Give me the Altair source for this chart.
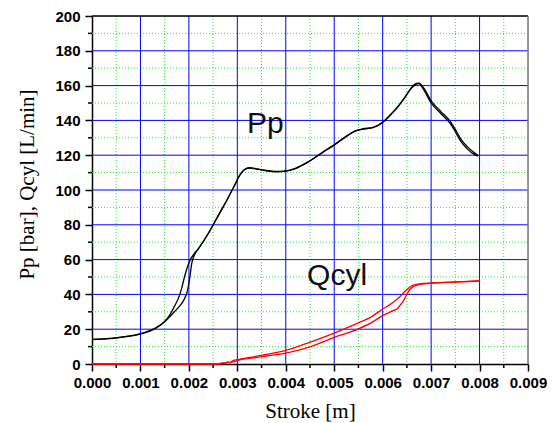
import altair as alt
import pandas as pd

# ---- data (stroke in m, values in bar / L/min) ----
x_ticks = [0.000, 0.001, 0.002, 0.003, 0.004, 0.005, 0.006, 0.007, 0.008, 0.009]
y_ticks = [0, 20, 40, 60, 80, 100, 120, 140, 160, 180, 200]
x_major_grid = [0.001, 0.002, 0.003, 0.004, 0.005, 0.006, 0.007, 0.008]
y_major_grid = [20, 40, 60, 80, 100, 120, 140, 160, 180]
x_minor = [0.0005, 0.0015, 0.0025, 0.0035, 0.0045, 0.0055, 0.0065, 0.0075, 0.0085]
y_minor = [10, 30, 50, 70, 90, 110, 130, 150, 170, 190]

pp_a_x = [0, 0.3, 0.6, 0.9, 1.1, 1.3, 1.5, 1.6, 1.7, 1.8, 1.85, 1.9, 1.95, 2.0, 2.05, 2.1,
          2.2, 2.4, 2.6, 2.8, 2.95, 3.05, 3.15, 3.25, 3.4, 3.6, 3.8, 4.0, 4.2, 4.45, 4.8,
          5.0, 5.2, 5.45, 5.6, 5.8, 6.0, 6.15, 6.3, 6.45, 6.6, 6.7, 6.75, 6.85, 7.0, 7.2,
          7.4, 7.5, 7.6, 7.75, 7.9, 7.97]
pp_a_y = [14.2, 14.6, 15.5, 16.7, 18.2, 20.5, 24.5, 28, 33, 39, 43.5, 49, 54, 58, 61, 63,
          66.5, 75, 85, 95, 103, 108.5, 111.8, 112.8, 112.2, 111.2, 110.7, 111, 112.5, 116, 122.5,
          126, 130, 134.2, 135.2, 136, 139, 143, 147.5, 153, 159, 161.2, 161.2, 157.5, 150, 144,
          138, 133.5, 128.5, 123.5, 120.3, 119.5]

pp_b_x = [0, 0.3, 0.6, 0.9, 1.1, 1.3, 1.5, 1.6, 1.7, 1.8, 1.9, 1.97, 2.02, 2.06, 2.12,
          2.2, 2.4, 2.6, 2.8, 2.95, 3.05, 3.15, 3.25, 3.4, 3.6, 3.8, 4.0, 4.2, 4.45, 4.8,
          5.0, 5.2, 5.45, 5.6, 5.8, 6.0, 6.15, 6.3, 6.45, 6.6, 6.7, 6.75, 6.85, 7.0, 7.2,
          7.4, 7.5, 7.6, 7.75, 7.9, 7.97]
pp_b_y = [14.0, 14.4, 15.3, 16.6, 18.0, 20.3, 24.3, 27, 30, 33, 37, 42, 50, 58, 63,
          66.3, 75, 85, 95, 103, 108.5, 111.8, 112.6, 112.0, 111.0, 110.5, 110.8, 112.3, 115.8, 122.3,
          125.8, 129.8, 134.0, 135.0, 135.8, 138.8, 142.8, 147.3, 152.8, 158.8, 161.0, 161.4, 158.5, 151.2, 145.2,
          139.2, 134.8, 129.8, 124.8, 121.2, 119.8]

q_a_x = [0, 2.6, 2.7, 2.75, 2.8, 2.85, 2.9, 3.0, 3.3, 3.6, 4.0, 4.5, 5.0, 5.5, 5.75, 6.0,
         6.2, 6.35, 6.45, 6.55, 6.65, 6.8, 7.0, 7.5, 8.0]
q_a_y = [0, 0, 0.8, 0.3, 1.2, 0.6, 1.8, 2.5, 4, 5.5, 7.8, 12.6, 17.8, 23.6, 26.8, 31.6,
         35, 38.5, 41.5, 44, 45.5, 46.2, 46.6, 47.2, 47.7]
q_b_x = [0, 2.65, 2.75, 2.85, 2.95, 3.0, 3.3, 3.6, 4.0, 4.5, 5.0, 5.5, 5.75, 6.0, 6.2,
         6.3, 6.43, 6.57, 6.74, 6.98, 7.5, 8.0]
q_b_y = [0, 0, 0.6, 1.0, 1.4, 2.0, 3.4, 4.6, 6.3, 9.9, 15.3, 20.2, 23.5, 27.8, 30.5,
         31.8, 36.4, 43.1, 45.6, 46.3, 47.1, 47.7]

labels = ["Pp", "Qcyl"]
label_x = [0.00320, 0.00444]
label_y = [133, 45.4]

# ---- build tables ----
rows = []
for name, xs_, ys_ in [("Pp a", pp_a_x, pp_a_y), ("Pp b", pp_b_x, pp_b_y),
                       ("Q a", q_a_x, q_a_y), ("Q b", q_b_x, q_b_y)]:
    for i, (xv, yv) in enumerate(zip(xs_, ys_)):
        rows.append({"s": name, "x": xv / 1000.0, "y": yv, "i": i})
lines = pd.DataFrame(rows)

W, H = 436, 348
xs = alt.Scale(domain=[0, 0.009], nice=False, zero=False)
ys = alt.Scale(domain=[0, 200], nice=False, zero=False)

x_axis = alt.Axis(values=x_ticks, format=".3f", grid=False, labelFlush=False,
                  labelFont="Liberation Sans", labelFontSize=15, labelFontWeight="bold",
                  labelColor="black", labelPadding=4, labelOverlap=False,
                  tickColor="black", tickSize=7, tickWidth=1.5,
                  domainColor="black", domainWidth=1.5,
                  title="Stroke [m]", titleFont="Liberation Serif", titleFontSize=21,
                  titleFontWeight="normal", titleColor="black",
                  titleY=53, titleBaseline="alphabetic")
y_axis = alt.Axis(values=y_ticks, grid=False, labelFlush=False,
                  labelFont="Liberation Sans", labelFontSize=15, labelFontWeight="bold",
                  labelColor="black", labelPadding=5, labelOverlap=False,
                  tickColor="black", tickSize=7, tickWidth=1.5,
                  domainColor="black", domainWidth=1.5,
                  title="Pp [bar],  Qcyl [L/min]", titleFont="Liberation Serif", titleFontSize=21,
                  titleFontWeight="normal", titleColor="black",
                  titleX=-65, titleY=168, titleBaseline="middle", titleAngle=270)


def X(field):
    return alt.X(field, scale=xs, axis=x_axis)


def Y(field):
    return alt.Y(field, scale=ys, axis=y_axis)


one = alt.Data(values=[{"a": 1}])

gx_minor = alt.Chart(pd.DataFrame({"x": x_minor})).mark_rule(
    color="#22ee22", strokeWidth=1, strokeDash=[1, 2]).encode(x=X("x:Q"))
gy_minor = alt.Chart(pd.DataFrame({"y": y_minor})).mark_rule(
    color="#22ee22", strokeWidth=1, strokeDash=[1, 2]).encode(y=Y("y:Q"))
gx_major = alt.Chart(pd.DataFrame({"x": x_major_grid})).mark_rule(
    color="#0000ff", strokeWidth=1).encode(x=X("x:Q"))
gy_major = alt.Chart(pd.DataFrame({"y": y_major_grid})).mark_rule(
    color="#0000ff", strokeWidth=1).encode(y=Y("y:Q"))

top_border = alt.Chart(one).mark_rule(color="black", strokeWidth=1.5).encode(
    x=alt.value(0), x2=alt.value(W), y=alt.value(0))
right_border = alt.Chart(one).mark_rule(color="#777777", strokeWidth=1.5).encode(
    x=alt.value(W), y=alt.value(0), y2=alt.value(H))

tx_minor = alt.Chart(pd.DataFrame({"x": x_minor})).mark_rule(
    color="black", strokeWidth=1.5).encode(
    x=X("x:Q"), y=alt.value(H), y2=alt.value(H + 4))
ty_minor = alt.Chart(pd.DataFrame({"y": y_minor})).mark_rule(
    color="black", strokeWidth=1.5).encode(
    y=Y("y:Q"), x=alt.value(-4), x2=alt.value(0))

curves = alt.Chart(lines).mark_line(strokeWidth=1.3, interpolate="monotone").encode(
    x=X("x:Q"),
    y=Y("y:Q"),
    detail="s:N",
    order="i:Q",
    color=alt.Color("s:N", legend=None,
                    scale=alt.Scale(domain=["Pp a", "Pp b", "Q a", "Q b"],
                                    range=["#000000", "#000000", "#ff0000", "#ff0000"])))

texts = alt.Chart(pd.DataFrame({"t": labels, "x": label_x, "y": label_y})).mark_text(
    font="Liberation Sans", fontSize=30, align="left", baseline="alphabetic",
    color="#111111").encode(x=X("x:Q"), y=Y("y:Q"), text="t:N")

chart = alt.layer(gx_minor, gy_minor, gx_major, gy_major, top_border, right_border,
                  tx_minor, ty_minor, curves, texts).properties(
    width=W, height=H,
    autosize=alt.AutoSizeParams(type="none"),
    padding={"left": 84, "top": 8, "right": 20, "bottom": 59},
).configure_view(stroke=None).configure(background="white")

chart.save("out.html", embed_options={"renderer": "svg", "actions": False})
